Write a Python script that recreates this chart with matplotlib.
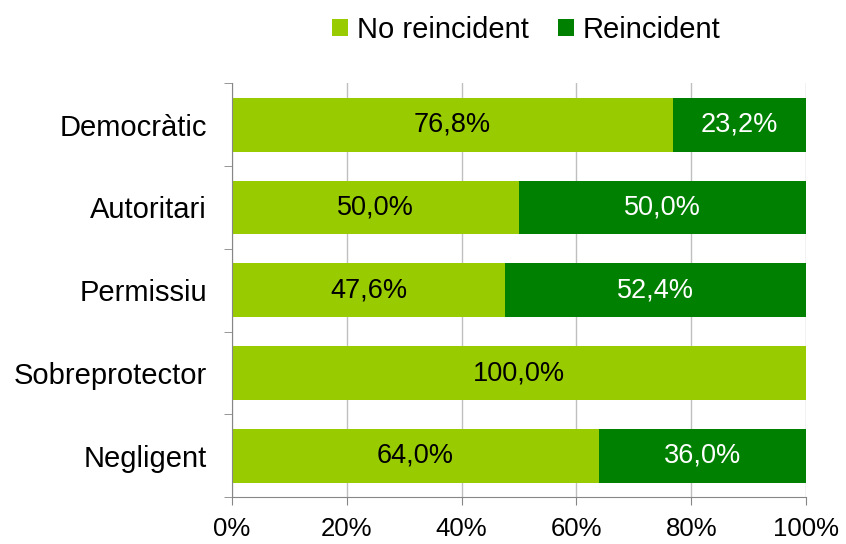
import numpy as np
import matplotlib
matplotlib.use("Agg")
from matplotlib import pyplot as plt

plt.rcParams['font.family'] = ['Liberation Sans', 'DejaVu Sans']

categories = ["Democràtic", "Autoritari", "Permissiu", "Sobreprotector", "Negligent"]
no_reincident = [76.8, 50.0, 47.6, 100.0, 64.0]
reincident = [23.2, 50.0, 52.4, 0.0, 36.0]
x_ticks = [0, 20, 40, 60, 80, 100]

light = "#99CC00"
dark = "#008000"
grid_col = "#BFBFBF"
axis_col = "#868686"

fig = plt.figure(figsize=(8.46, 5.44), dpi=100)
ax = fig.add_axes([0.274, 0.086, 0.679, 0.761])

y = np.arange(len(categories))
h = 0.65
b1 = ax.barh(y, no_reincident, height=h, color=light, label="No reincident", zorder=2)
b2 = ax.barh(y, reincident, height=h, left=no_reincident, color=dark, label="Reincident", zorder=2)

for i in range(len(categories)):
    if no_reincident[i] > 0:
        ax.text(no_reincident[i] / 2, y[i], f"{no_reincident[i]:.1f}%".replace(".", ","),
                ha="center", va="center", fontsize=19.5, color="black", zorder=3)
    if reincident[i] > 0:
        ax.text(no_reincident[i] + reincident[i] / 2, y[i], f"{reincident[i]:.1f}%".replace(".", ","),
                ha="center", va="center", fontsize=19.5, color="white", zorder=3)

ax.set_xlim(0, 100)
ax.set_ylim(len(categories) - 0.5, -0.5)
ax.set_xticks(x_ticks)
ax.set_xticklabels([f"{v}%" for v in x_ticks], fontsize=18.5)
ax.set_yticks(y)
ax.set_yticklabels(categories, fontsize=21)
ax.set_yticks(np.arange(-0.5, len(categories), 1), minor=True)

ax.tick_params(axis="y", which="major", length=0, pad=18)
ax.tick_params(axis="y", which="minor", length=6, color=axis_col, direction="out")
ax.tick_params(axis="x", length=6, color=axis_col, direction="out", pad=8)

ax.xaxis.grid(True, color=grid_col, linewidth=1, zorder=0)
ax.set_axisbelow(True)
for s in ["top", "right"]:
    ax.spines[s].set_visible(False)
for s in ["left", "bottom"]:
    ax.spines[s].set_color(axis_col)

fig.legend(handles=[b1, b2], loc="center", bbox_to_anchor=(0.622, 0.945), ncol=2,
           frameon=False, fontsize=21, handlelength=0.55, handleheight=0.55,
           handletextpad=0.3, columnspacing=1.0)

fig.savefig("out.png", dpi=100)
